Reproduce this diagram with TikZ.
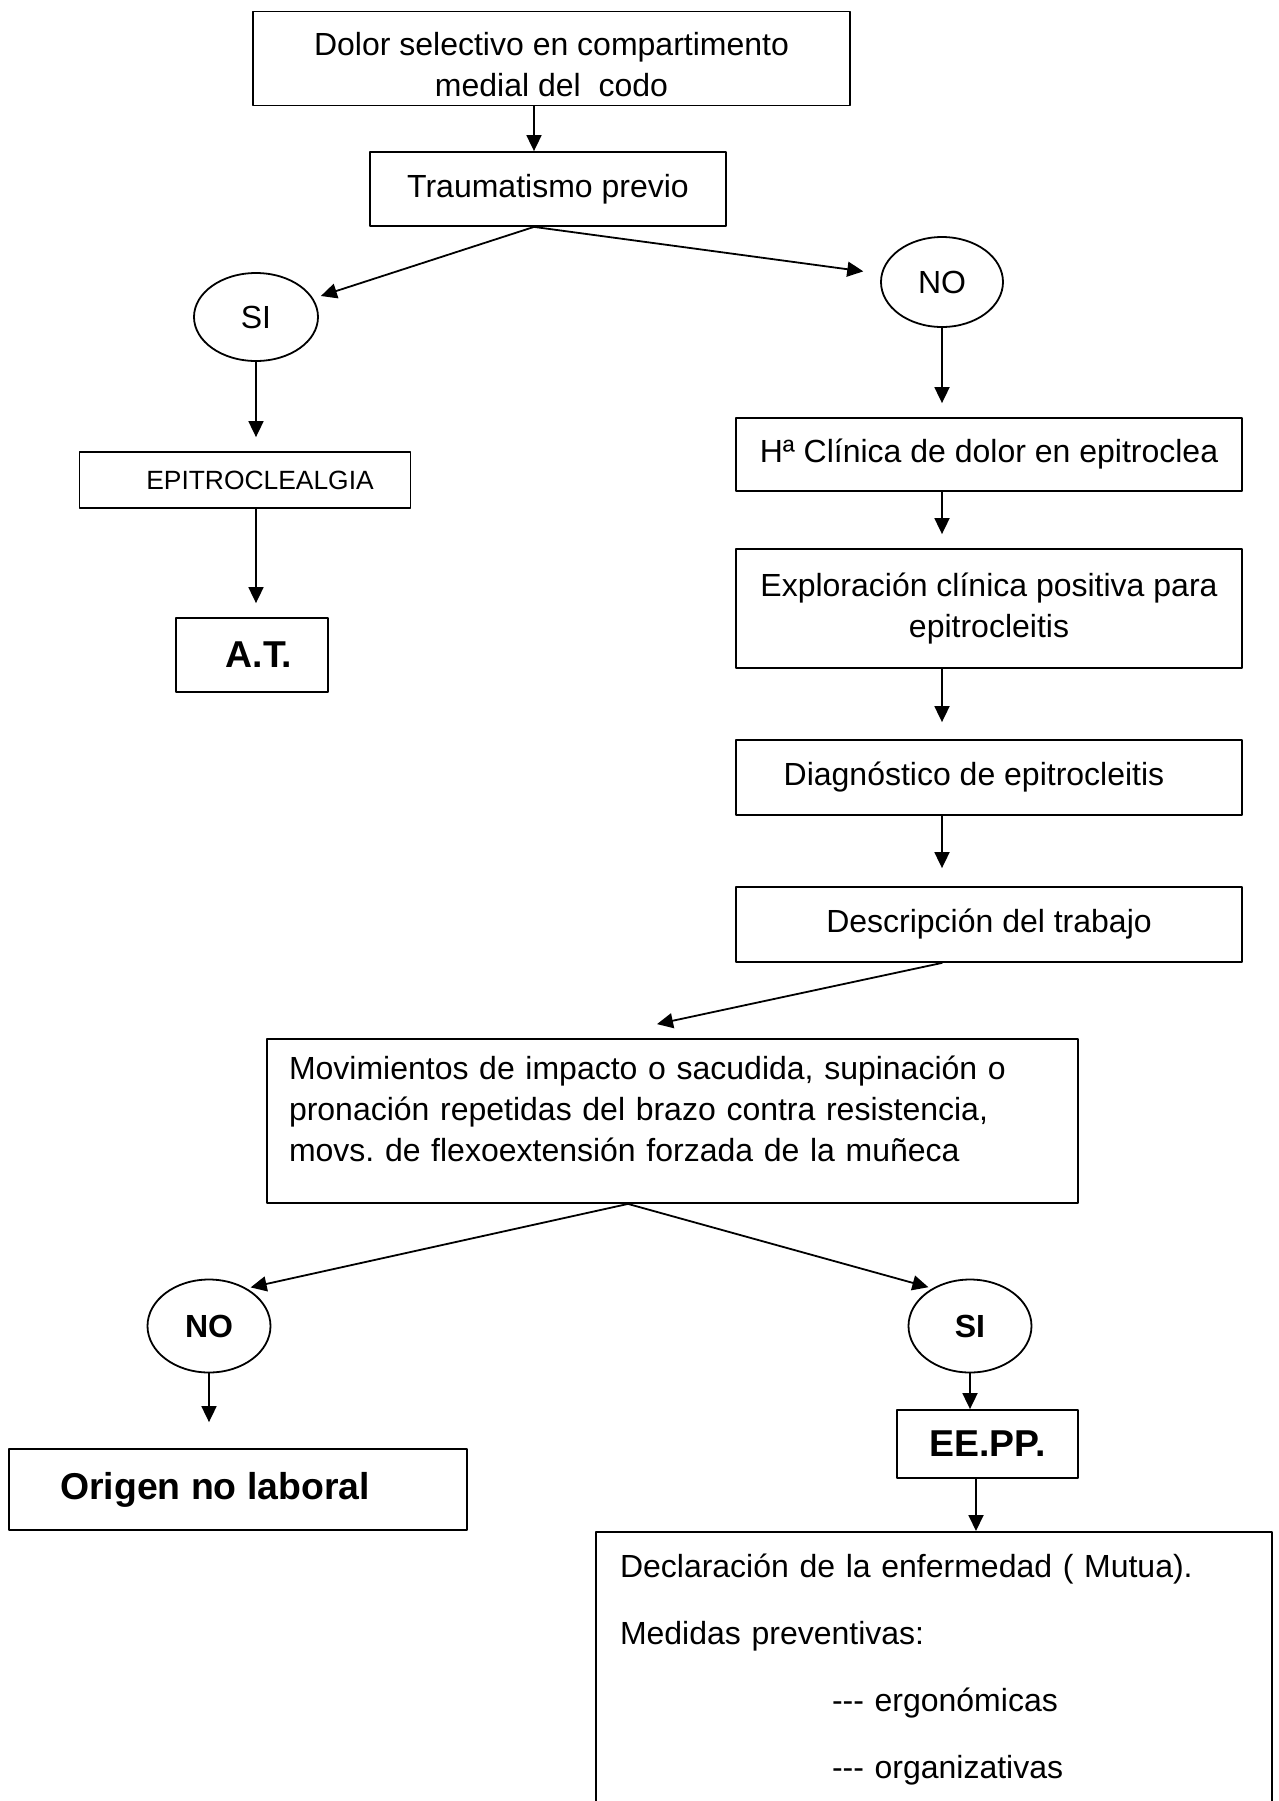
\documentclass[tikz,border=0pt]{standalone}
\usepackage{fontspec}
\setmainfont{Liberation Sans}
\usepackage{tikz}
\usetikzlibrary{arrows}
\usetikzlibrary{arrows.meta,shapes.geometric,calc}
\frenchspacing

\tikzset{
  caja/.style={draw,line width=0.9pt,inner sep=0pt,font=\fontsize{16}{20.5}\selectfont},
  elipse/.style={draw,ellipse,line width=0.9pt,inner sep=0pt,font=\fontsize{16}{20}\selectfont},
  grande/.style={font=\fontsize{18.7}{22}\selectfont\bfseries},
  flecha/.style={->,line width=0.9pt},
  hueco/.style={shorten >=7pt},
}

\begin{document}
\begin{tikzpicture}[line cap=round,line join=round,>={Triangle[length=8pt,width=7.5pt]},x=0.5pt,y=-0.5pt]
\useasboundingbox (0,0) rectangle (1279,1801);
\clip (0,0) rectangle (1279,1801);

\node[caja,minimum width=298.5pt,minimum height=47pt,align=center] (dolor) at (551.5,58.5) {\mbox{}\\[-2.8pt]Dolor selectivo en compartimento\\ medial del~ codo};
\node[caja,minimum width=178pt,minimum height=37pt] (trauma) at (548,189) {Traumatismo previo};
\node[elipse,minimum width=62pt,minimum height=44pt] (si1) at (256,317) {SI};
\node[elipse,minimum width=61pt,minimum height=45pt] (no1) at (942,282) {NO};
\node[caja,minimum width=165.5pt,minimum height=28pt,font=\fontsize{13.2}{16}\selectfont] (epi) at (245,480) {\hspace*{15pt}EPITROCLEALGIA};
\node[caja,grande,minimum width=76pt,minimum height=37pt] (at) at (252,655) {\hspace*{7pt}A.T.};
\node[caja,minimum width=253pt,minimum height=36.5pt] (hist) at (989,454.5) {Hª Clínica de dolor en epitroclea};
\node[caja,minimum width=253pt,minimum height=59.5pt,align=center] (expl) at (989,608.5) {Exploración clínica positiva para\\ epitrocleitis};
\node[caja,minimum width=253pt,minimum height=37.5pt] (diag) at (989,777.5) {Diagnóstico de epitrocleitis\hspace*{15pt}};
\node[caja,minimum width=253pt,minimum height=37.5pt] (desc) at (989,924.5) {Descripción del trabajo};
\node[caja,minimum width=405.5pt,minimum height=82pt,text width=383.5pt,align=left] (mov) at (672.5,1121) {Movimientos de impacto o sacudida, supinación o\\ pronación repetidas del brazo contra resistencia,\\ movs. de flexoextensión forzada de la muñeca\\[-8pt]\mbox{}};
\node[elipse,font=\fontsize{16}{20}\selectfont\bfseries,minimum width=61.5pt,minimum height=46.5pt] (no2) at (209,1326) {NO};
\node[elipse,font=\fontsize{16}{20}\selectfont\bfseries,minimum width=61.5pt,minimum height=46.5pt] (si2) at (970,1326) {SI};
\node[caja,grande,minimum width=229pt,minimum height=40.5pt] (origen) at (238,1489.5) {Origen no laboral\hspace*{23pt}};
\node[caja,grande,minimum width=90.5pt,minimum height=34pt] (eepp) at (987.5,1444) {EE.PP.};
\node[caja,anchor=north,minimum width=338pt,text width=314pt,align=left,inner ysep=10.8pt,font=\fontsize{16}{33.5}\selectfont] (decl) at (934,1531) {Declaración de la enfermedad ( Mutua).\\ Medidas preventivas:\\ \hspace*{106pt}\mbox{-}\mbox{-}\mbox{-} ergonómicas\\ \hspace*{106pt}\mbox{-}\mbox{-}\mbox{-} organizativas\\ \mbox{}};

\coordinate (tb) at ([xshift=-7pt]trauma.south);
\coordinate (pm) at ([xshift=-7.75pt,yshift=7pt]mov.north);
\coordinate (mb) at ([xshift=-22.25pt]mov.south);

\draw[flecha] ([xshift=-7pt]trauma.north |- dolor.south) -- ([xshift=-7pt]trauma.north);
\draw[flecha,shorten >=4pt] (tb) -- (si1);
\draw[flecha,shorten >=9pt] (tb) -- (no1);
\draw[flecha,hueco] (si1.south) -- (si1.south |- epi.north);
\draw[flecha,hueco] (si1.south |- epi.south) -- (si1.south |- at.north);
\draw[flecha,hueco] (no1.south) -- (no1.south |- hist.north);
\draw[flecha,hueco] (no1.south |- hist.south) -- (no1.south |- expl.north);
\draw[flecha,shorten >=8.5pt] (no1.south |- expl.south) -- (no1.south |- diag.north);
\draw[flecha,shorten >=9pt] (no1.south |- diag.south) -- (no1.south |- desc.north);
\draw[flecha] (no1.south |- desc.south) -- (pm);
\draw[flecha,shorten >=2pt] (mb) -- (no2.45);
\draw[flecha,shorten >=2pt] (mb) -- (si2.135);
\draw[flecha,shorten >=13pt] (no2.south) -- (no2.south |- origen.north);
\draw[flecha] (si2.south) -- (si2.south |- eepp.north);
\draw[flecha] ([xshift=-5.75pt]eepp.south) -- ([xshift=-5.75pt]eepp.south |- decl.north);
\end{tikzpicture}
\end{document}
